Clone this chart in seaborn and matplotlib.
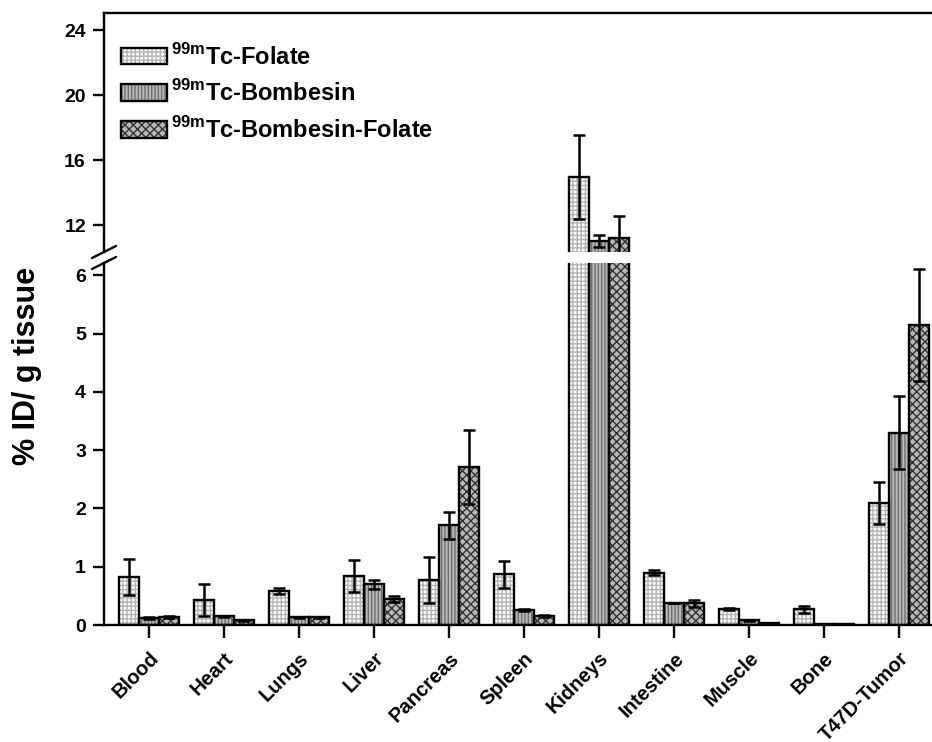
import matplotlib
matplotlib.use("Agg")
import matplotlib.pyplot as plt
from matplotlib.patches import Patch, Rectangle
import pandas as pd
import seaborn as sns

organs = ["Blood", "Heart", "Lungs", "Liver", "Pancreas", "Spleen", "Kidneys",
          "Intestine", "Muscle", "Bone", "T47D-Tumor"]
agents = ["$^{\\mathrm{99m}}$Tc-Folate", "$^{\\mathrm{99m}}$Tc-Bombesin",
          "$^{\\mathrm{99m}}$Tc-Bombesin-Folate"]

folate = [0.82, 0.43, 0.58, 0.84, 0.77, 0.87, 14.97, 0.90, 0.27, 0.27, 2.10]
folate_err = [0.31, 0.27, 0.05, 0.27, 0.40, 0.23, 2.60, 0.05, 0.02, 0.06, 0.36]
bombesin = [0.12, 0.15, 0.13, 0.70, 1.71, 0.26, 11.03, 0.37, 0.08, 0.02, 3.30]
bombesin_err = [0.01, 0.01, 0.01, 0.08, 0.23, 0.02, 0.38, 0.0, 0.01, 0.0, 0.62]
bomb_fol = [0.14, 0.08, 0.13, 0.45, 2.71, 0.15, 11.20, 0.37, 0.03, 0.02, 5.15]
bomb_fol_err = [0.02, 0.01, 0.01, 0.05, 0.64, 0.02, 1.35, 0.06, 0.0, 0.0, 0.96]

# face colour, hatch colour, hatch pattern per series
faces = ["#ffffff", "#b8b8b8", "#b8b8b8"]
hatch_colors = ["#b4b4b4", "#707070", "#333333"]
hatches = ["++++", "|||||", "xxxx"]

values = [folate, bombesin, bomb_fol]
errors = [folate_err, bombesin_err, bomb_fol_err]
df = pd.DataFrame({
    "organ": organs * 3,
    "agent": [a for a in agents for _ in organs],
    "value": folate + bombesin + bomb_fol,
})

sns.set_style("white")
plt.rcParams["font.family"] = ["Liberation Sans", "DejaVu Sans"]
plt.rcParams["font.weight"] = "bold"
plt.rcParams["mathtext.fontset"] = "custom"
plt.rcParams["mathtext.rm"] = "Liberation Sans"
plt.rcParams["hatch.linewidth"] = 1.0
for key in ["text.color", "axes.labelcolor", "xtick.color", "ytick.color", "axes.edgecolor"]:
    plt.rcParams[key] = "black"

W, H = 932, 742
fig = plt.figure(figsize=(W / 100, H / 100), dpi=100)
left = 104 / W
ax_top = fig.add_axes([left, 1 - 252 / H, 1 - left, (252 - 13) / H])
ax_bot = fig.add_axes([left, 1 - 625 / H, 1 - left, (625 - 263) / H])


def draw(ax):
    sns.barplot(data=df, x="organ", y="value", hue="agent", hue_order=agents,
                order=organs, errorbar=None, legend=False, ax=ax, width=0.8)
    bars = list(ax.containers)
    for k, cont in enumerate(bars):
        xs = []
        for p in cont.patches:
            p.set_facecolor(faces[k])
            p.set_edgecolor(hatch_colors[k])
            p.set_hatch(hatches[k])
            p.set_linewidth(0)
            ax.add_patch(Rectangle(p.get_xy(), p.get_width(), p.get_height(),
                                   fill=False, edgecolor="black", linewidth=1.7, zorder=3))
            xs.append(p.get_x() + p.get_width() / 2)
        ax.errorbar(xs, values[k], yerr=errors[k], fmt="none", ecolor="black",
                    elinewidth=1.8, capsize=4, capthick=1.8, zorder=4)
    ax.set_xlim(-0.6, 10.44)
    ax.set_xlabel("")
    ax.set_ylabel("")
    ax.spines["right"].set_visible(False)
    for s in ax.spines.values():
        s.set_linewidth(1.7)
    ax.tick_params(axis="y", direction="out", length=8, width=1.7, labelsize=14, pad=5, left=True)


draw(ax_top)
draw(ax_bot)

ax_top.set_ylim(10.34, 25.05)
ax_top.set_yticks([12, 16, 20, 24])
ax_top.spines["bottom"].set_visible(False)
ax_top.tick_params(axis="x", bottom=False, labelbottom=False)

ax_bot.set_ylim(0, 6.21)
ax_bot.set_yticks(range(7))
ax_bot.spines["top"].set_visible(False)
ax_bot.tick_params(axis="x", bottom=True, direction="out", length=9, width=1.7,
                   labelsize=14.5, pad=8)
plt.setp(ax_bot.get_xticklabels(), rotation=45, ha="right", rotation_mode="anchor")

# axis break marks on the left spine
kw = dict(color="black", linewidth=1.7, clip_on=False)
dx, dy = 12 / (W - 104), 6 / 239
ax_top.plot([-dx, dx], [-dy, dy], transform=ax_top.transAxes, **kw)
dy2 = 6 / 362
ax_bot.plot([-dx, dx], [1 - dy2, 1 + dy2], transform=ax_bot.transAxes, **kw)

fig.text(0.029, 0.507, "% ID/ g tissue", rotation=90, va="center", ha="center",
         fontsize=22, fontweight="bold")

handles = [(Patch(facecolor=faces[k], edgecolor=hatch_colors[k], hatch=hatches[k], linewidth=0),
            Patch(fill=False, edgecolor="black", linewidth=1.7)) for k in range(3)]
ax_top.legend(handles, agents, loc="upper left", bbox_to_anchor=(0.02, 0.872),
              frameon=False, handlelength=1.95, handleheight=0.7,
              handletextpad=0.2, labelspacing=0.45, borderaxespad=0, borderpad=0,
              prop={"weight": "bold", "size": 17})

fig.savefig("out.png", dpi=100)
